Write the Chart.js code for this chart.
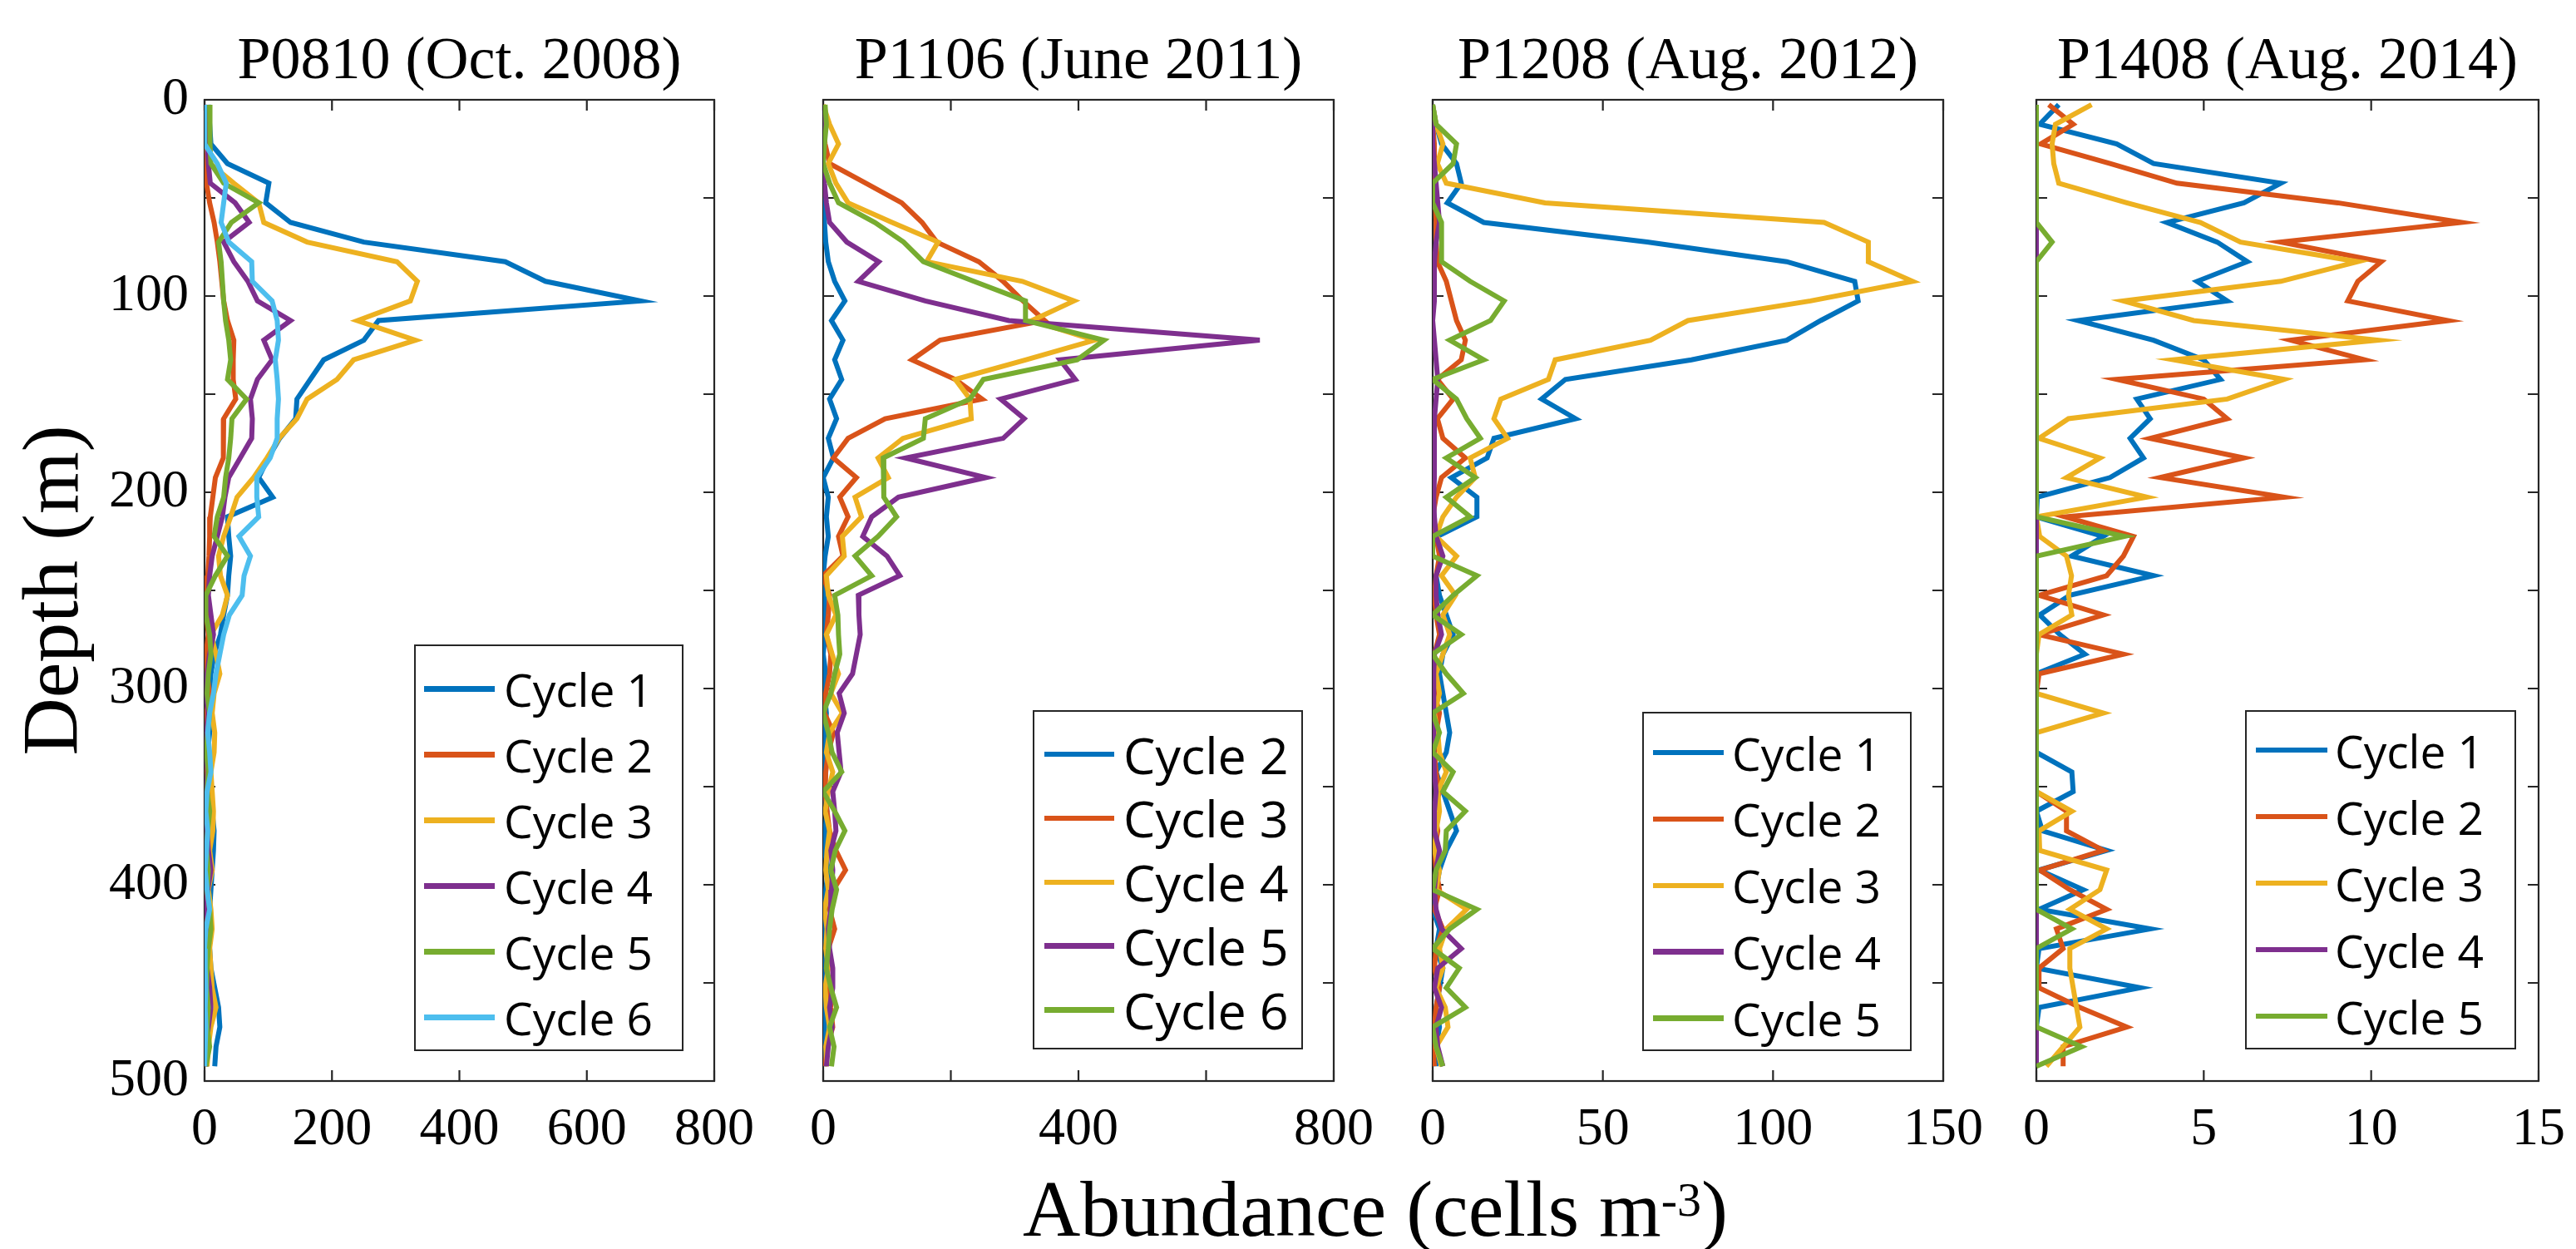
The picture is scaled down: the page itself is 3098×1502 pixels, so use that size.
<!DOCTYPE html>
<html>
<head>
<meta charset="utf-8">
<script src="https://cdn.jsdelivr.net/npm/chart.js@4.4.1/dist/chart.umd.min.js"></script>
<style>
  body { margin: 0; background: #fff; width: 3098px; height: 1502px; position: relative; overflow: hidden; }
  canvas { position: absolute; top: 0; }
  .legend { position: absolute; border: 2px solid #262626; background: #fff; box-sizing: border-box; }
  .legend .item { position: absolute; left: 0; height: 60px; display: flex; align-items: center; white-space: nowrap; }
  .legend .swatch { display: block; height: 6.5px; }
  .legend .txt { font-family: 'Open Sans', 'Noto Sans', sans-serif; line-height: 1; color: #000; }
  .xlabel { position: absolute; left: 654px; width: 2000px; top: 1406px; text-align: center;
            font-family: 'Liberation Serif'; font-size: 96px; line-height: 96px; color: #000; }
  .xlabel sup { font-size: 58px; position: relative; top: -24px; vertical-align: baseline; }
</style>
</head>
<body>
<div class="xlabel">Abundance (cells m<sup>-3</sup>)</div>
<script>
const depths = [2.5, 12.5, 22.5, 32.5, 42.5, 52.5, 62.5, 72.5, 82.5, 92.5,
  102.5, 112.5, 122.5, 132.5, 142.5, 152.5, 162.5, 172.5, 182.5, 192.5,
  202.5, 212.5, 222.5, 232.5, 242.5, 252.5, 262.5, 272.5, 282.5, 292.5,
  302.5, 312.5, 322.5, 332.5, 342.5, 352.5, 362.5, 372.5, 382.5, 392.5,
  402.5, 412.5, 422.5, 432.5, 442.5, 452.5, 462.5, 472.5, 482.5, 492.5];

// P0810 (Oct. 2008)
const p0810Labels = ['Cycle 1', 'Cycle 2', 'Cycle 3', 'Cycle 4', 'Cycle 5', 'Cycle 6'];
const p0810Cycle1 = [6, 8, 10, 36, 101, 96, 135, 250, 472, 535,
  684, 273, 250, 187, 166, 145, 143, 118, 100, 85,
  107, 36, 38, 41, 38, 36, 30, 25, 15, 10,
  8, 6, 8, 5, 8, 10, 12, 15, 14, 12,
  10, 8, 6, 8, 10, 16, 22, 24, 18, 16];
const p0810Cycle2 = [0, 0, 0, 1, 3, 8, 15, 20, 24, 27,
  30, 36, 46, 45, 45, 49, 30, 30, 29, 17,
  13, 9, 8, 7, 5, 4, 3, 6, 2, 4,
  8, 3, 5, 2, 4, 6, 3, 5, 2, 4,
  3, 5, 2, 4, 8, 6, 3, 2, 4, 2];
const p0810Cycle3 = [0, 0, 2, 9, 46, 85, 93, 161, 302, 334,
  323, 240, 331, 234, 208, 161, 145, 117, 98, 77,
  51, 41, 30, 22, 25, 36, 28, 10, 18, 24,
  15, 12, 16, 15, 10, 12, 14, 13, 8, 12,
  6, 10, 12, 8, 10, 12, 18, 10, 6, 4];
const p0810Cycle4 = [0, 2, 4, 6, 9, 48, 70, 30, 46, 68,
  83, 135, 93, 106, 83, 72, 75, 74, 56, 38,
  32, 28, 20, 12, 8, 6, 10, 14, 8, 4,
  2, 6, 3, 2, 5, 3, 2, 4, 6, 10,
  5, 3, 6, 2, 4, 8, 10, 6, 3, 2];
const p0810Cycle5 = [8, 8, 9, 10, 30, 85, 42, 22, 26, 28,
  30, 33, 38, 41, 36, 66, 43, 41, 38, 33,
  30, 20, 15, 36, 17, 2, 2, 8, 10, 6,
  4, 8, 5, 3, 6, 4, 8, 5, 3, 6,
  4, 8, 10, 6, 4, 3, 6, 4, 8, 2];
const p0810Cycle6 = [0, 0, 0, 20, 34, 30, 26, 38, 74, 75,
  106, 114, 116, 111, 114, 116, 114, 114, 103, 82,
  82, 85, 54, 72, 62, 59, 39, 30, 24, 18,
  14, 8, 5, 8, 10, 4, 2, 5, 3, 1,
  4, 8, 2, 0, 1, 2, 1, 2, 1, 0];

// P1106 (June 2011)
const p1106Labels = ['Cycle 2', 'Cycle 3', 'Cycle 4', 'Cycle 5', 'Cycle 6'];
const p1106Cycle2 = [0, 0, 0, 0, 0, 1, 2, 4, 8, 18,
  34, 13, 31, 18, 29, 10, 21, 8, 16, 0,
  8, 5, 8, 3, 0, 2, 2, 3, 0, 4,
  2, 5, 3, 1, 4, 2, 6, 3, 2, 8,
  4, 3, 2, 5, 3, 1, 4, 2, 3, 1];
const p1106Cycle3 = [0, 0, 3, 10, 67, 123, 155, 178, 244, 282,
  313, 347, 183, 139, 207, 249, 97, 39, 16, 52,
  26, 39, 24, 31, 0, 10, 8, 5, 12, 10,
  4, 2, 16, 8, 4, 3, 6, 10, 20, 35,
  16, 10, 18, 8, 5, 10, 12, 15, 6, 3];
const p1106Cycle4 = [0, 10, 24, 8, 20, 39, 108, 180, 162, 312,
  393, 327, 425, 318, 207, 230, 232, 125, 86, 102,
  50, 60, 30, 33, 5, 8, 20, 5, 14, 24,
  12, 30, 10, 5, 15, 8, 3, 10, 6, 4,
  8, 2, 6, 4, 8, 3, 5, 10, 4, 6];
const p1106Cycle5 = [0, 0, 0, 0, 2, 5, 10, 37, 87, 55,
  160, 291, 684, 371, 395, 278, 315, 282, 129, 255,
  118, 76, 62, 100, 120, 55, 56, 58, 52, 46,
  25, 33, 22, 25, 28, 15, 18, 20, 12, 15,
  13, 12, 8, 10, 15, 15, 10, 14, 8, 5];
const p1106Cycle6 = [3, 5, 2, 0, 10, 24, 81, 126, 157, 236,
  317, 317, 440, 398, 251, 230, 160, 157, 94, 95,
  95, 115, 86, 50, 76, 18, 23, 24, 26, 18,
  12, 0, 8, 14, 29, 0, 18, 34, 19, 12,
  21, 14, 10, 8, 5, 12, 21, 10, 17, 13];

// P1208 (Aug. 2012)
const p1208Labels = ['Cycle 1', 'Cycle 2', 'Cycle 3', 'Cycle 4', 'Cycle 5'];
const p1208Cycle1 = [0, 1, 2.6, 7, 8.4, 4.3, 15, 63, 104, 124,
  125, 114, 104, 76, 39, 32, 42, 18, 16, 5.5,
  13, 13, 1.4, 2.6, 1, 2, 4, 6, 3, 2,
  3, 4, 5, 4, 1, 3, 5, 7, 4, 2,
  1, 0, 2, 1, 3, 2, 1, 2, 1, 1];
const p1208Cycle2 = [0, 0, 0.5, 0.5, 0.5, 0.8, 1, 1, 1.4, 4,
  5.5, 7, 9.6, 8.4, 1.4, 6, 1.4, 3, 9.6, 2.6,
  1, 0, 1, 2, 1, 0.5, 1, 2, 0.5, 1,
  0.5, 2, 1, 0.5, 1, 2, 0.5, 1.5, 0.5, 1,
  2, 0.5, 3, 1, 0.5, 2, 1, 0.5, 0, 0.5];
const p1208Cycle3 = [0, 1, 3, 1.4, 4, 33, 115, 128, 128, 141,
  111, 75, 64, 36, 34, 20, 18, 22, 11, 12.5,
  7, 3, 1, 7, 2.6, 6.7, 3, 5, 3, 1,
  2, 0.5, 1.5, 2, 4, 1.5, 2, 1, 0.5, 2,
  1, 10, 4, 2, 3, 1, 3.7, 4.5, 1, 2.6];
const p1208Cycle4 = [0, 0, 0, 0.5, 1, 1.5, 2, 1, 0.5, 0.5,
  0.5, 0, 0.5, 1, 1.5, 1, 0.5, 0.5, 0.5, 0.5,
  0.3, 0.5, 1, 3, 1, 1, 1.5, 2.6, 0.5, 0.3,
  0.3, 0.3, 0.3, 0.3, 0.5, 1, 0.5, 0.5, 2, 1,
  0.5, 1, 2.6, 8.4, 1.5, 0.5, 2.6, 1, 1.5, 3];
const p1208Cycle5 = [0, 1, 7, 6, 0, 0, 2.6, 2.6, 2.6, 11,
  21, 17, 5, 15, 0, 7, 10, 14, 4, 12.5,
  4, 11, 0, 0, 13, 6, 0, 8.4, 0, 4,
  9, 0, 2, 0, 6, 3, 9.6, 4, 3.7, 1,
  0, 13, 5, 0, 7.8, 4, 9.6, 0, 1, 3];

// P1408 (Aug. 2014)
const p1408Labels = ['Cycle 1', 'Cycle 2', 'Cycle 3', 'Cycle 4', 'Cycle 5'];
const p1408Cycle1 = [0.67, 0.1, 2.4, 3.5, 7.3, 6.2, 3.9, 5.4, 6.3, 4.8,
  5.7, 1.25, 3.5, 5.0, 5.5, 3.0, 3.4, 2.8, 3.2, 2.2,
  0.03, 0, 2.0, 1.05, 3.5, 1.0, 0.1, 0.7, 1.45, 0,
  0, 0, 0, 0, 1.06, 1.1, 0, 0.18, 2.1, 0.08,
  1.4, 0.08, 3.4, 0.08, 0, 3.1, 0.08, 0, 0, 0];
const p1408Cycle2 = [0.37, 1.1, 0.13, 2.2, 4.2, 9.0, 12.7, 7.3, 10.3, 9.6,
  9.3, 12.3, 7.6, 9.8, 2.4, 5.0, 5.7, 3.4, 6.2, 3.7,
  7.4, 0.86, 2.9, 2.6, 2.1, 0.08, 2.0, 0.08, 2.6, 0.08,
  0, 0, 0, 0, 0, 0, 0.9, 0.9, 2.0, 0.1,
  1.0, 2.1, 0.6, 0.8, 0.08, 0.08, 1.3, 2.7, 0.8, 0.8];
const p1408Cycle3 = [1.65, 0.57, 0.47, 0.52, 0.67, 2.7, 4.9, 6.1, 9.6, 7.3,
  2.6, 4.7, 10.2, 4.1, 7.4, 5.7, 0.96, 0.08, 1.9, 0.9,
  3.3, 0, 0.1, 0.9, 1.05, 0.96, 1.06, 0.08, 0, 0,
  0, 2.0, 0, 0, 0, 0, 1.06, 0.08, 0.1, 2.1,
  1.9, 1.0, 2.1, 1.0, 1.0, 1.1, 1.2, 1.3, 0.8, 0.3];
const p1408Cycle4 = [0, 0, 0, 0, 0, 0, 0, 0, 0, 0,
  0, 0, 0, 0, 0, 0, 0, 0, 0, 0,
  0, 0, 0, 0, 0, 0, 0, 0, 0, 0,
  0, 0, 0, 0, 0, 0, 0, 0, 0, 0,
  0, 0, 0, 0, 0, 0, 0, 0, 0, 0];
const p1408Cycle5 = [0, 0, 0, 0, 0, 0, 0, 0.47, 0, 0,
  0, 0, 0, 0, 0, 0, 0, 0, 0, 0,
  0, 0, 2.63, 0, 0, 0, 0, 0, 0, 0,
  0, 0, 0, 0, 0, 0, 0, 0, 0, 0,
  0, 0, 1.06, 0, 0, 0, 0, 0, 1.35, 0];

const colors = ['#0072BD', '#D95319', '#EDB120', '#7E2F8E', '#77AC30', '#4DBEEE'];
const serif = 'Liberation Serif';

Chart.defaults.font.family = serif;
Chart.defaults.font.size = 64;
Chart.defaults.font.weight = 'normal';
Chart.defaults.color = '#000';

const panels = [
  { title: 'P0810 (Oct. 2008)', labels: p0810Labels,
    series: [p0810Cycle1, p0810Cycle2, p0810Cycle3, p0810Cycle4, p0810Cycle5, p0810Cycle6],
    xMax: 800, xStep: 200, xLabelEvery: 200,
    left: 0, width: 930, padLeft: 0, padRight: 71, yWidth: 246, showY: true,
    legend: { left: 498, top: 775, width: 324, height: 489, first: 53.6, gap: 79, lineLeft: 12, lineLen: 85, textGap: 11, font: 55 } },
  { title: 'P1106 (June 2011)', labels: p1106Labels,
    series: [p1106Cycle2, p1106Cycle3, p1106Cycle4, p1106Cycle5, p1106Cycle6],
    xMax: 800, xStep: 200, xLabelEvery: 400,
    left: 900, width: 780, padLeft: 90, padRight: 76, yWidth: 0, showY: false,
    legend: { left: 1242, top: 854, width: 325, height: 408, first: 53, gap: 76.9, lineLeft: 14, lineLen: 84, textGap: 11, font: 61 } },
  { title: 'P1208 (Aug. 2012)', labels: p1208Labels,
    series: [p1208Cycle1, p1208Cycle2, p1208Cycle3, p1208Cycle4, p1208Cycle5],
    xMax: 150, xStep: 50, xLabelEvery: 50,
    left: 1650, width: 760, padLeft: 73, padRight: 73, yWidth: 0, showY: false,
    legend: { left: 1975, top: 856, width: 324, height: 408, first: 49, gap: 79.9, lineLeft: 13, lineLen: 85, textGap: 10, font: 55 } },
  { title: 'P1408 (Aug. 2014)', labels: p1408Labels,
    series: [p1408Cycle1, p1408Cycle2, p1408Cycle3, p1408Cycle4, p1408Cycle5],
    xMax: 15, xStep: 5, xLabelEvery: 5,
    left: 2380, width: 718, padLeft: 69, padRight: 35, yWidth: 0, showY: false,
    legend: { left: 2700, top: 854, width: 326, height: 408, first: 48, gap: 80, lineLeft: 13, lineLen: 86, textGap: 9, font: 55 } },
];

// MATLAB style box with inward ticks on all four sides
const boxTicks = {
  id: 'boxTicks',
  beforeDatasetsDraw(chart) {
    const { ctx, chartArea: a, scales: { x, y } } = chart;
    ctx.save();
    ctx.strokeStyle = '#262626';
    ctx.lineWidth = 2.2;
    ctx.beginPath();
    x.ticks.forEach((t) => {
      const px = x.getPixelForValue(t.value);
      ctx.moveTo(px, a.bottom); ctx.lineTo(px, a.bottom - 13);
      ctx.moveTo(px, a.top); ctx.lineTo(px, a.top + 13);
    });
    y.ticks.forEach((t) => {
      const py = y.getPixelForValue(t.value);
      ctx.moveTo(a.left, py); ctx.lineTo(a.left + 13, py);
      ctx.moveTo(a.right, py); ctx.lineTo(a.right - 13, py);
    });
    ctx.stroke();
    ctx.strokeRect(a.left, a.top, a.right - a.left, a.bottom - a.top);
    ctx.restore();
  },
};

function buildLegend(chart, lg) {
  const box = document.createElement('div');
  box.className = 'legend';
  box.style.left = lg.left + 'px';
  box.style.top = lg.top + 'px';
  box.style.width = lg.width + 'px';
  box.style.height = lg.height + 'px';
  chart.data.datasets.forEach((ds, i) => {
    const row = document.createElement('div');
    row.className = 'item';
    row.style.top = (lg.first + i * lg.gap - 2 - 30) + 'px';
    const sw = document.createElement('span');
    sw.className = 'swatch';
    sw.style.background = ds.borderColor;
    sw.style.width = lg.lineLen + 'px';
    sw.style.marginLeft = (lg.lineLeft - 2) + 'px';
    const txt = document.createElement('span');
    txt.className = 'txt';
    txt.style.fontSize = lg.font + 'px';
    txt.style.marginLeft = lg.textGap + 'px';
    txt.textContent = ds.label;
    row.appendChild(sw);
    row.appendChild(txt);
    box.appendChild(row);
  });
  document.body.appendChild(box);
}

panels.forEach((p) => {
  const canvas = document.createElement('canvas');
  canvas.width = p.width;
  canvas.height = 1502;
  canvas.style.left = p.left + 'px';
  canvas.style.width = p.width + 'px';
  canvas.style.height = '1502px';
  document.body.appendChild(canvas);

  const chart = new Chart(canvas, {
    type: 'line',
    data: {
      datasets: p.series.map((vals, i) => ({
        label: p.labels[i],
        data: vals.map((v, k) => ({ x: v, y: depths[k] })),
        borderColor: colors[i],
        backgroundColor: colors[i],
        borderWidth: 6,
        pointRadius: 0,
        tension: 0,
        order: p.series.length - i,
      })),
    },
    options: {
      indexAxis: 'y',
      responsive: false,
      animation: false,
      devicePixelRatio: 1,
      elements: { line: { borderWidth: 6 } },
      layout: { padding: { left: p.padLeft, right: p.padRight, top: 0, bottom: 0 } },
      plugins: {
        legend: { display: false },
        tooltip: { enabled: false },
        title: {
          display: true,
          text: p.title,
          fullSize: false,
          color: '#000',
          font: { family: serif, size: 72, weight: 'normal' },
          padding: { top: 32, bottom: 1.6 },
        },
      },
      scales: {
        x: {
          type: 'linear',
          position: 'bottom',
          min: 0,
          max: p.xMax,
          grid: { display: false },
          border: { display: false },
          ticks: {
            stepSize: p.xStep,
            autoSkip: false,
            maxRotation: 0,
            padding: 13,
            color: '#000',
            font: { family: serif, size: 64, weight: 'normal' },
            callback: (v) => (v % p.xLabelEvery === 0 ? String(v) : ''),
          },
          afterFit: (s) => { s.height = 202; },
        },
        y: {
          type: 'linear',
          position: 'left',
          min: 0,
          max: 500,
          reverse: true,
          grid: { display: false },
          border: { display: false },
          ticks: {
            display: p.showY,
            stepSize: 50,
            autoSkip: false,
            padding: 11,
            color: '#000',
            font: { family: serif, size: 64, weight: 'normal' },
            callback: (v) => (v % 100 === 0 ? String(v) : ''),
          },
          title: {
            display: p.showY,
            text: 'Depth (m)',
            color: '#000',
            font: { family: serif, size: 96, weight: 'normal' },
            padding: { top: 10, bottom: 0 },
          },
          afterFit: (s) => { s.width = p.yWidth; },
        },
      },
    },
    plugins: [boxTicks],
  });

  buildLegend(chart, p.legend);
});
</script>
</body>
</html>
